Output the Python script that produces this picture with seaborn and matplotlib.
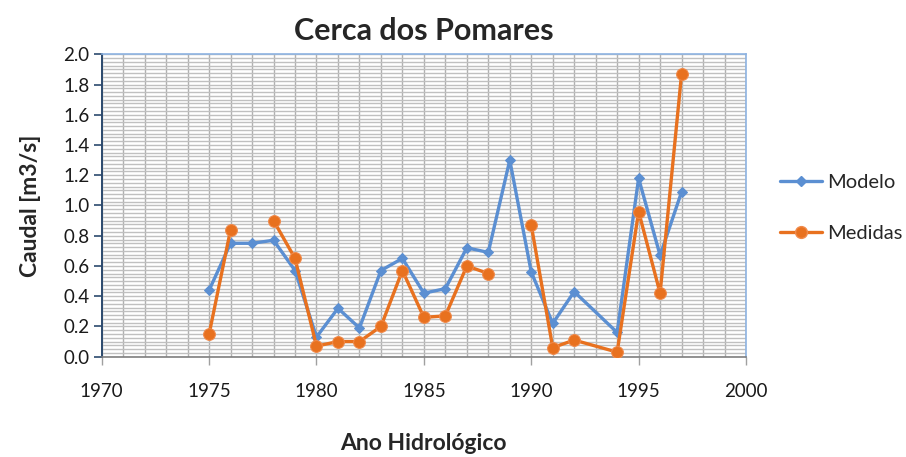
"""Cerca dos Pomares - caudal modelo vs medidas (Excel-style line chart)."""
import matplotlib
matplotlib.use("Agg")
import matplotlib.pyplot as plt
import numpy as np
import pandas as pd
import seaborn as sns
from matplotlib.lines import Line2D
from matplotlib.ticker import MultipleLocator, FormatStrFormatter

# --- data ----------------------------------------------------------------- #
anos = [1975, 1976, 1977, 1978, 1979, 1980, 1981, 1982, 1983, 1984, 1985,
        1986, 1987, 1988, 1989, 1990, 1991, 1992, 1994, 1995, 1996, 1997]
modelo = [0.44, 0.75, 0.75, 0.77, 0.57, 0.13, 0.32, 0.19, 0.57, 0.65, 0.42,
          0.45, 0.72, 0.69, 1.30, 0.56, 0.22, 0.43, 0.16, 1.18, 0.67, 1.09]
medidas = [0.15, 0.84, np.nan, 0.90, 0.65, 0.07, 0.10, 0.10, 0.20, 0.57, 0.26,
           0.27, 0.60, 0.55, np.nan, 0.87, 0.06, 0.11, 0.03, 0.96, 0.42, 1.87]

AZUL = "#5b8fd2"
LARANJA = "#e8711f"

sns.set_theme(style="white")
plt.rcParams["font.family"] = ["Lato", "DejaVu Sans"]

df_mod = pd.DataFrame({"ano": anos, "caudal": modelo})
df_med = pd.DataFrame({"ano": anos, "caudal": medidas})
# blank cells in Excel break the line -> one unit per continuous run
df_med["troco"] = df_med["caudal"].isna().cumsum()
df_med = df_med.dropna()

fig = plt.figure(figsize=(9.06, 4.57), dpi=100)
ax = fig.add_axes([0.1123, 0.2195, 0.7111, 0.6617])

sns.lineplot(data=df_mod, x="ano", y="caudal", color=AZUL, lw=2.4,
             marker="D", markersize=5, markeredgecolor=AZUL, ax=ax,
             zorder=3)
sns.lineplot(data=df_med, x="ano", y="caudal", units="troco",
             estimator=None, color=LARANJA, lw=2.4, marker="o",
             markersize=8.5, markeredgecolor="#f08a4b", ax=ax, zorder=4)

ax.set_xlim(1970, 2000)
ax.set_ylim(0, 2.0)
ax.xaxis.set_major_locator(MultipleLocator(5))
ax.xaxis.set_minor_locator(MultipleLocator(1))
ax.yaxis.set_major_locator(MultipleLocator(0.2))
ax.yaxis.set_minor_locator(MultipleLocator(0.025))
ax.yaxis.set_major_formatter(FormatStrFormatter("%.1f"))

ax.grid(which="both", axis="x", color="#b0b0b0", lw=1.0, zorder=0)
ax.grid(which="both", axis="y", color="#c0c0c0", lw=1.0, zorder=0)
ax.set_axisbelow(True)

ax.tick_params(axis="both", which="minor", length=0)
ax.tick_params(axis="y", which="major", direction="out", length=6,
               width=1.2, color="#2c4a6e", labelsize=13.5, pad=3,
               left=True, labelcolor="#1a1a1a")
ax.tick_params(axis="x", which="major", direction="out", length=6,
               width=1.0, color="#a0a0a0", labelsize=13.5, pad=13,
               bottom=True, labelcolor="#1a1a1a")

for lado in ["top", "right"]:
    ax.spines[lado].set_visible(True)
    ax.spines[lado].set_color("#8db3e2")
    ax.spines[lado].set_linewidth(1.2)
ax.spines["left"].set_color("#2c4a6e")
ax.spines["left"].set_linewidth(1.4)
ax.spines["bottom"].set_color("#7f7f7f")
ax.spines["bottom"].set_linewidth(1.2)

ax.set_title("Cerca dos Pomares", fontsize=22, fontweight="bold", pad=10)
ax.set_xlabel("Ano Hidrológico", fontsize=16.5, fontweight="bold",
              labelpad=24)
ax.set_ylabel("Caudal [m3/s]", fontsize=16.5, fontweight="bold",
              labelpad=16)

handles = [
    Line2D([], [], color=AZUL, lw=2.4, marker="D", markersize=5),
    Line2D([], [], color=LARANJA, lw=2.4, marker="o", markersize=8.5,
           markeredgecolor="#f08a4b"),
]
fig.legend(handles, ["Modelo", "Medidas"], loc="center left",
           bbox_to_anchor=(0.861, 0.545), frameon=False, fontsize=14.5,
           handlelength=2.1, handletextpad=0.25, labelspacing=1.65,
           borderaxespad=0, borderpad=0)

fig.savefig("out.png", dpi=100)
